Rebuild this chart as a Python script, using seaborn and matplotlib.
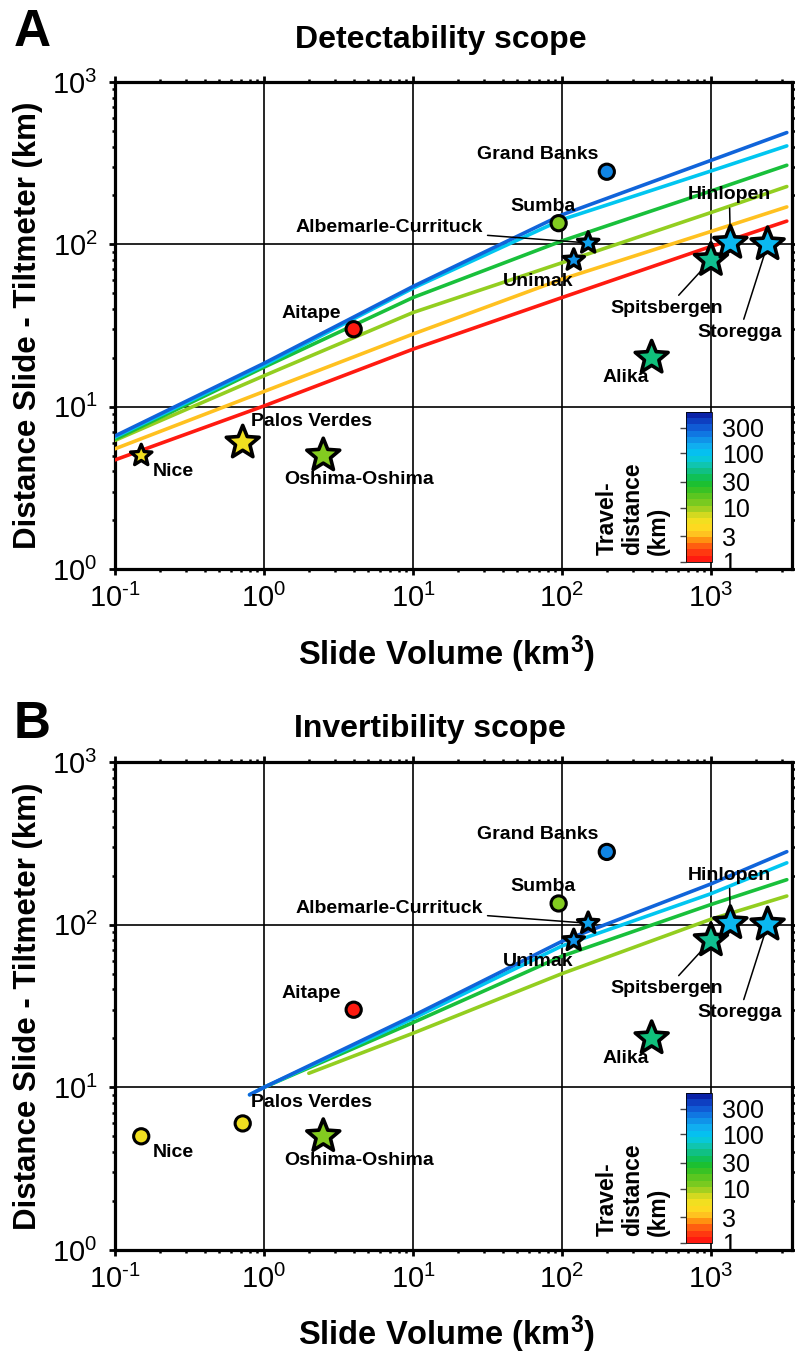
import numpy as np
import pandas as pd
import matplotlib
matplotlib.use("Agg")
import matplotlib.pyplot as plt
import seaborn as sns
from matplotlib import font_manager as fm
from matplotlib.colors import LinearSegmentedColormap, LogNorm
from matplotlib.cm import ScalarMappable
from matplotlib.path import Path
from matplotlib.ticker import FuncFormatter

# ---------------------------------------------------------------- data
slide_names = ["Nice", "Palos Verdes", "Oshima-Oshima", "Aitape", "Sumba",
               "Grand Banks", "Albemarle-Currituck", "Unimak", "Spitsbergen",
               "Hinlopen", "Storegga", "Alika"]
slide_volume_km3 = [0.15, 0.72, 2.5, 4.0, 95, 200, 150, 120, 1000, 1350, 2400, 400]
tilt_distance_km = [5, 6, 5, 30, 135, 280, 102, 80, 80, 102, 100, 20]
travel_distance_km = [5.5, 5.5, 11, 1, 11, 220, 160, 190, 52, 125, 125, 45]
marker_kind_A = ["star_s", "star_l", "star_l", "circle", "circle", "circle",
                 "star_s", "star_s", "star_l", "star_l", "star_l", "star_l"]
marker_kind_B = ["circle", "circle", "star_l", "circle", "circle", "circle",
                 "star_s", "star_s", "star_l", "star_l", "star_l", "star_l"]

# detectability limits for travel distances of 1, 3, 10, 30, 100, 300 km
detect_travel_km = [1, 3, 10, 30, 100, 300]
detect_volume = [0.1, 1, 10, 100, 1000, 3230]
detect_d1 = [4.7, 10.1, 22.6, 47, 97, 139]
detect_d3 = [5.5, 12.4, 28, 61, 120, 170]
detect_d10 = [6.2, 15.5, 38, 77, 157, 227]
detect_d30 = [6.3, 17.5, 47, 105, 213, 307]
detect_d100 = [6.5, 18, 53.7, 142, 283, 404]
detect_d300 = [6.6, 18.5, 55, 152, 329, 488]

# invertibility limits
invert_travel_km = [10, 30, 100, 300]
invert_v10 = [2, 10, 100, 1000, 3230]
invert_d10 = [12.2, 21.5, 50, 108, 150]
invert_v30 = [1, 10, 100, 1000, 3230]
invert_d30 = [10, 25, 64, 133, 189]
invert_v100 = [0.8, 1, 10, 100, 1000, 3230]
invert_d100 = [9.0, 10, 26.5, 74, 155, 240]
invert_v300 = [0.8, 1, 10, 100, 1000, 3230]
invert_d300 = [9.0, 10, 27.5, 79, 178, 281]

cbar_ticks = [1, 3, 10, 30, 100, 300]

# ---------------------------------------------------------------- style
sns.set_theme(style="ticks", rc={
    "text.color": "black", "axes.labelcolor": "black", "axes.edgecolor": "black",
    "xtick.color": "black", "ytick.color": "black", "axes.unicode_minus": False,
})
names = {f.name for f in fm.fontManager.ttflist}
NARROW = "Liberation Sans Narrow" if "Liberation Sans Narrow" in names else "Liberation Sans"
plt.rcParams["font.family"] = ["Liberation Sans", "DejaVu Sans"]
plt.rcParams["mathtext.fontset"] = "custom"
plt.rcParams["mathtext.rm"] = "Liberation Sans"
plt.rcParams["mathtext.bf"] = "Liberation Sans:bold"

cmap = LinearSegmentedColormap.from_list(
    "travel",
    [(0.00, "#ff1a10"), (0.07, "#ff4a10"), (0.13, "#ff9010"), (0.17, "#ffc020"),
     (0.23, "#fce020"), (0.28, "#ecde20"), (0.33, "#b8d420"), (0.37, "#88cc20"),
     (0.45, "#50c420"), (0.51, "#20c028"), (0.56, "#10c050"), (0.62, "#10c090"),
     (0.67, "#10c8c0"), (0.72, "#00c8f0"), (0.78, "#10b0f0"), (0.83, "#1090e8"),
     (0.88, "#1070e0"), (0.93, "#1050d0"), (1.00, "#0a22a8")], N=256)
norm = LogNorm(vmin=1, vmax=580)

star = Path.unit_regular_star(5, 0.44)

slides = pd.DataFrame({"name": slide_names, "volume": slide_volume_km3,
                       "distance": tilt_distance_km, "travel": travel_distance_km})

label_offset_px = {
    "Nice": (32, -16), "Palos Verdes": (69, 21), "Oshima-Oshima": (36, -24),
    "Aitape": (-42, 16), "Sumba": (-16, 17), "Grand Banks": (-69, 17),
    "Albemarle-Currituck": (-199, 15), "Unimak": (-36, -21),
    "Spitsbergen": (-44, -48), "Hinlopen": (-1, 48), "Storegga": (-28, -88),
    "Alika": (-26, -20),
}
leader_lines = {"Albemarle-Currituck", "Spitsbergen", "Hinlopen", "Storegga"}

W, H = 795, 1353
fig = plt.figure(figsize=(W / 100, H / 100), dpi=100)


def frac_box(x0, y0, x1, y1):
    return [x0 / W, 1 - y1 / H, (x1 - x0) / W, (y1 - y0) / H]


def decade_label(v, pos):
    exp = int(round(np.log10(v)))
    txt = str(exp).replace("-", r"\text{-}")
    return r"$\mathdefault{10^{%s}}$" % txt


def setup_axes(ax):
    ax.set_xscale("log")
    ax.set_yscale("log")
    ax.set_xlim(0.1, 3500)
    ax.set_ylim(1, 1000)
    ax.grid(which="major", color="black", lw=1.2, zorder=0.5)
    ax.grid(which="minor", visible=False)
    for sp in ax.spines.values():
        sp.set_linewidth(2.3)
        sp.set_color("black")
    ax.tick_params(which="both", direction="out", top=True, right=True,
                   color="black", width=2)
    ax.tick_params(which="major", length=4.5, labelsize=21,
                   labelfontfamily=NARROW, labelcolor="black")
    ax.tick_params(axis="x", which="major", pad=6)
    ax.tick_params(axis="y", which="major", pad=8)
    ax.tick_params(which="minor", length=2.5, width=1.8)
    ax.set_xticks([0.1, 1, 10, 100, 1000])
    ax.xaxis.set_major_formatter(FuncFormatter(decade_label))
    ax.set_xlabel("")
    ax.set_ylabel("")
    ax.set_axisbelow(True)


def draw_markers(ax, kinds):
    df = slides.assign(kind=kinds)
    specs = {"circle": dict(marker="o", s=120, linewidth=2.2),
             "star_s": dict(marker=star, s=260, linewidth=2.4),
             "star_l": dict(marker=star, s=620, linewidth=2.6)}
    for kind, spec in specs.items():
        sub = df[df["kind"] == kind]
        if sub.empty:
            continue
        sns.scatterplot(data=sub, x="volume", y="distance", hue="travel",
                        palette=cmap, hue_norm=norm, edgecolor="black",
                        legend=False, ax=ax, zorder=5, **spec)


def draw_labels(ax):
    for name, v, d in zip(slide_names, slide_volume_km3, tilt_distance_km):
        arrow = None
        if name in leader_lines:
            arrow = dict(arrowstyle="-", color="black", lw=1.1, shrinkA=1, shrinkB=0)
        ax.annotate(name, xy=(v, d), xytext=label_offset_px[name],
                    textcoords="offset pixels", ha="center", va="center",
                    fontsize=14, fontweight="bold", color="black",
                    arrowprops=arrow, zorder=4)


def draw_colorbar(y0, y1):
    cax = fig.add_axes(frac_box(686, y0, 712, y1))
    banded = ScalarMappable(norm=norm, cmap=cmap.resampled(24))
    cb = fig.colorbar(banded, cax=cax, ticks=cbar_ticks)
    cb.minorticks_off()
    cb.outline.set_linewidth(0.6)
    cax.set_yticklabels([str(t) for t in cbar_ticks])
    cax.tick_params(which="both", left=True, right=False, labelleft=False,
                    labelright=True, length=4, width=1.0, color="#444444",
                    labelsize=18, pad=3, labelfontfamily=NARROW, labelcolor="black")
    return cax


def panel_text(letter, title, title_x, y_letter, y_title, y_axis_mid, y_xlabel, y_cb_bottom):
    fig.text(14 / W, 1 - y_letter / H, letter, fontsize=37, fontweight="bold",
             ha="left", va="center")
    fig.text(title_x / W, 1 - y_title / H, title, fontsize=23, fontweight="bold",
             ha="center", va="center")
    fig.text(28 / W, 1 - y_axis_mid / H, "Distance Slide - Tiltmeter (km)",
             fontsize=22.5, fontweight="bold", rotation=90, ha="center", va="center")
    fig.text(447 / W, 1 - y_xlabel / H, r"Slide Volume (km$\mathbf{^{3}}$)",
             fontsize=23.5, fontweight="bold", ha="center", va="center")
    fig.text(633 / W, 1 - y_cb_bottom / H, "Travel-\ndistance\n(km)",
             fontsize=16.5, fontweight="bold", rotation=90, ha="center", va="bottom",
             multialignment="left", linespacing=1.15)


# ---------------------------------------------------------------- panel A
axA = fig.add_axes(frac_box(115, 82, 792, 569))
setup_axes(axA)
for travel, dist in zip(detect_travel_km,
                        [detect_d1, detect_d3, detect_d10, detect_d30, detect_d100, detect_d300]):
    sns.lineplot(x=detect_volume, y=dist, color=cmap(norm(travel)), lw=2.6,
                 sort=False, estimator=None, ax=axA, zorder=3)
draw_markers(axA, marker_kind_A)
draw_labels(axA)
setup_axes(axA)
draw_colorbar(412, 562)
panel_text("A", "Detectability scope", 441, 32, 40, 325, 654, 555)

# ---------------------------------------------------------------- panel B
axB = fig.add_axes(frac_box(115, 762, 792, 1250))
setup_axes(axB)
for travel, vol, dist in zip(invert_travel_km,
                             [invert_v10, invert_v30, invert_v100, invert_v300],
                             [invert_d10, invert_d30, invert_d100, invert_d300]):
    sns.lineplot(x=vol, y=dist, color=cmap(norm(travel)), lw=2.6,
                 sort=False, estimator=None, ax=axB, zorder=3)
draw_markers(axB, marker_kind_B)
draw_labels(axB)
setup_axes(axB)
draw_colorbar(1093, 1243)
panel_text("B", "Invertibility scope", 430, 725, 729, 1006, 1334, 1236)

fig.savefig("out.png", dpi=100)
